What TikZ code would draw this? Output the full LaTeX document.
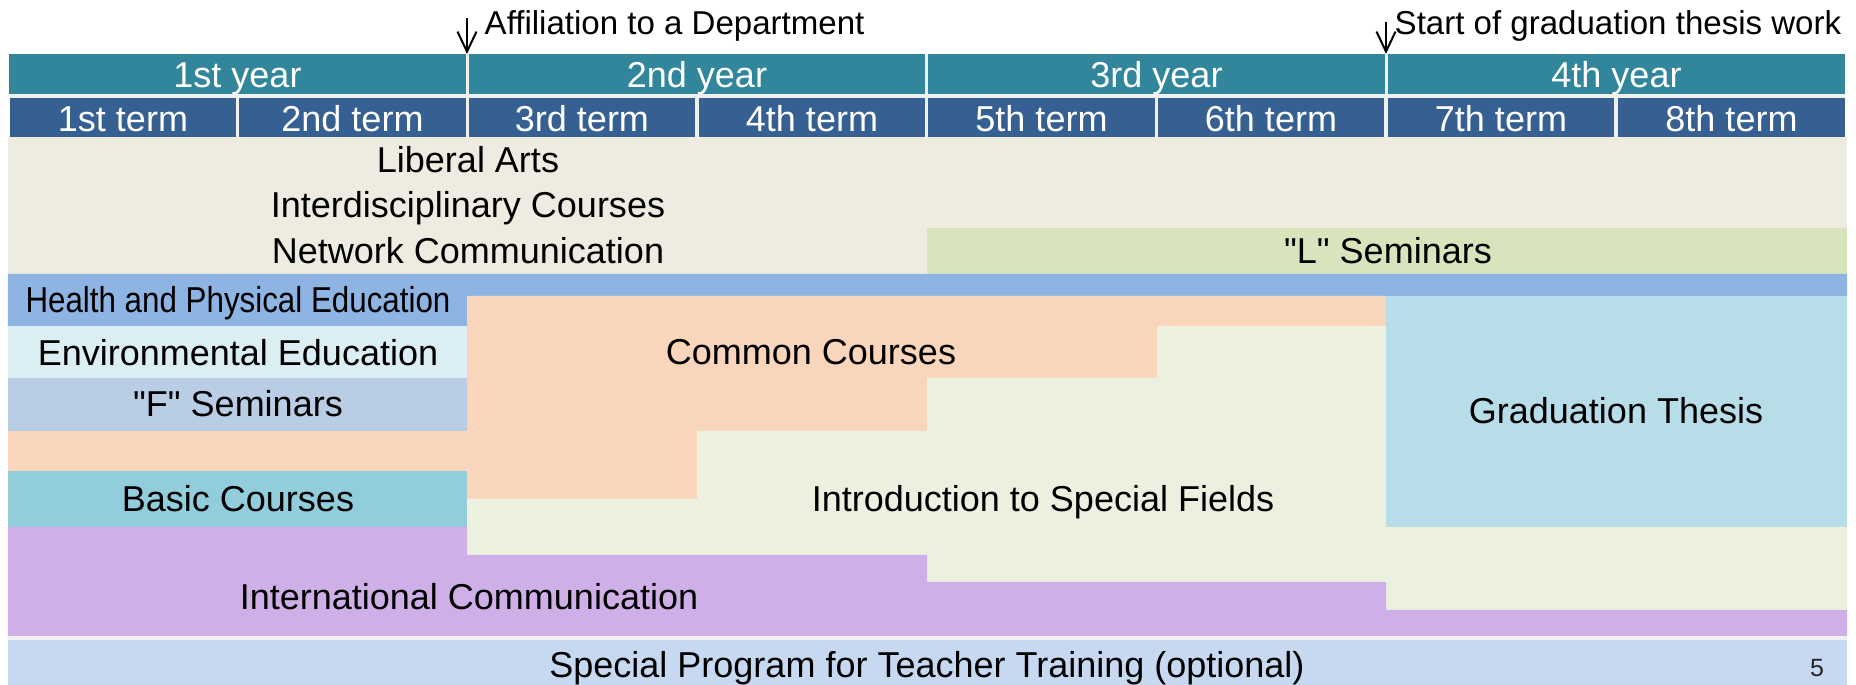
\documentclass[tikz,border=0pt]{standalone}
\usepackage{fontspec}
\setmainfont{Liberation Sans}[Ligatures=TeXOff]
\usepackage{graphicx}
\usepackage{tikz}
\usetikzlibrary{arrows.meta}

\definecolor{yearteal}{HTML}{31869B}
\definecolor{termblue}{HTML}{376092}
\definecolor{artsbg}{HTML}{EEECE1}
\definecolor{lsemgreen}{HTML}{D7E4BC}
\definecolor{healthblue}{HTML}{8EB4E3}
\definecolor{envblue}{HTML}{DAEEF3}
\definecolor{fsemblue}{HTML}{B9CDE5}
\definecolor{commonorange}{HTML}{F9D6BB}
\definecolor{basicblue}{HTML}{92CDDC}
\definecolor{introgreen}{HTML}{EBF1DE}
\definecolor{thesisblue}{HTML}{B7DEE8}
\definecolor{intlpurple}{HTML}{CFAFE7}
\definecolor{teacherblue}{HTML}{C6D9F0}
\definecolor{sepgray}{HTML}{F0F0F0}

\newcommand{\blocksize}{\fontsize{10.24pt}{12pt}\selectfont}
\newcommand{\notesize}{\fontsize{9.4pt}{11pt}\selectfont}

\begin{document}
\begin{tikzpicture}[x=0.01cm,y=-0.01cm,
	yearcell/.style={fill=yearteal,text=white,font=\blocksize,inner sep=0pt,
		minimum width=4.56cm,minimum height=0.40cm,text height=0.31cm,text depth=0.04cm},
	termcell/.style={fill=termblue,text=white,font=\blocksize,inner sep=0pt,
		minimum width=2.26cm,minimum height=0.39cm,text height=0.31cm,text depth=0.04cm},
	lbl/.style={anchor=base,inner sep=0pt,font=\blocksize},
	note/.style={anchor=base west,inner sep=0pt,font=\notesize},
	pointer/.style={-{Straight Barb[length=5.7pt,width=5.4pt]},line width=0.57pt}]
			\useasboundingbox (0,0) rectangle (1856,685);
			
			% header rows
			\fill[sepgray] (10,54) rectangle (1845,137);
			\node[yearcell] (y1) at (237.5,74){1st year};
			\node[yearcell] (y2) at (697,74){2nd year};
			\node[yearcell] (y3) at (1156.5,74){3rd year};
			\node[yearcell] (y4) at (1616.5,74){4th year};
			
			\node[termcell] (t1) at (123,117.5){1st term};
			\node[termcell] (t2) at (352.5,117.5){2nd term};
			\node[termcell] (t3) at (582,117.5){3rd term};
			\node[termcell] (t4) at (812,117.5){4th term};
			\node[termcell] (t5) at (1041.5,117.5){5th term};
			\node[termcell] (t6) at (1271,117.5){6th term};
			\node[termcell] (t7) at (1501,117.5){7th term};
			\node[termcell] (t8) at (1731.5,117.5){8th term};
			
			% milestones
			\coordinate (affiltop) at (467,18);
			\coordinate (affilend) at (467,54);
			\draw[pointer] (affiltop)--(affilend);
			\node[note] (affil) at (484,35){Affiliation to a Department};
			\coordinate (thesistop) at (1386,22);
			\coordinate (thesisend) at (1386,54);
			\draw[pointer] (thesistop)--(thesisend);
			\node[note] (gradstart) at (1394,35){Start of graduation thesis work};
			
			% course blocks
			\fill[artsbg] (8,137) rectangle (1847,274);
			\fill[lsemgreen] (927,228) rectangle (1847,274);
			\fill[healthblue] (8,274)--(1847,274)--(1847,296)--(467,296)--(467,326)--(8,326)--cycle;
			\fill[envblue] (8,326) rectangle (467,378);
			\fill[fsemblue] (8,378) rectangle (467,431);
			\fill[commonorange] (8,431) rectangle (467,471);
			\fill[commonorange] (467,296)--(1386,296)--(1386,326)--(1157,326)--(1157,378)
				--(927,378)--(927,431)--(697,431)--(697,499)--(467,499)--cycle;
			\fill[basicblue] (8,471) rectangle (467,527);
			\fill[introgreen] (467,499)--(697,499)--(697,431)--(927,431)--(927,378)--(1157,378)
				--(1157,326)--(1386,326)--(1386,527)--(1847,527)--(1847,610)--(1386,610)
				--(1386,582)--(927,582)--(927,555)--(467,555)--cycle;
			\fill[thesisblue] (1386,296) rectangle (1847,527);
			\fill[intlpurple] (8,527)--(467,527)--(467,555)--(927,555)--(927,582)--(1386,582)
				--(1386,610)--(1847,610)--(1847,636)--(8,636)--cycle;
			\fill[sepgray] (8,636) rectangle (1847,640);
			\fill[teacherblue] (8,640) rectangle (1847,685);
			
			\node[lbl] (arts) at (468,173){Liberal Arts};
			\node[lbl] (inter) at (468,218){Interdisciplinary Courses};
			\node[lbl] (net) at (468,264){Network Communication};
			\node[lbl] (lsem) at (1388,264){"L" Seminars};
			\node[lbl] (health) at (238,313){\scalebox{0.87}[1]{Health and Physical Education}};
			\node[lbl] (env) at (238,366){Environmental Education};
			\node[lbl] (fsem) at (238,417){"F" Seminars};
			\node[lbl] (common) at (811,365){Common Courses};
			\node[lbl] (basic) at (238,512){Basic Courses};
			\node[lbl] (intro) at (1043,512){Introduction to Special Fields};
			\node[lbl] (thesis) at (1616,424){Graduation Thesis};
			\node[lbl] (intl) at (469,610){International Communication};
			\node[lbl] (teacher) at (927,677){Special Program for Teacher Training (optional)};
			\node[lbl,font=\fontsize{7.1pt}{8pt}\selectfont,text=black!85] (page) at (1817,676){5};
		\end{tikzpicture}
\end{document}
